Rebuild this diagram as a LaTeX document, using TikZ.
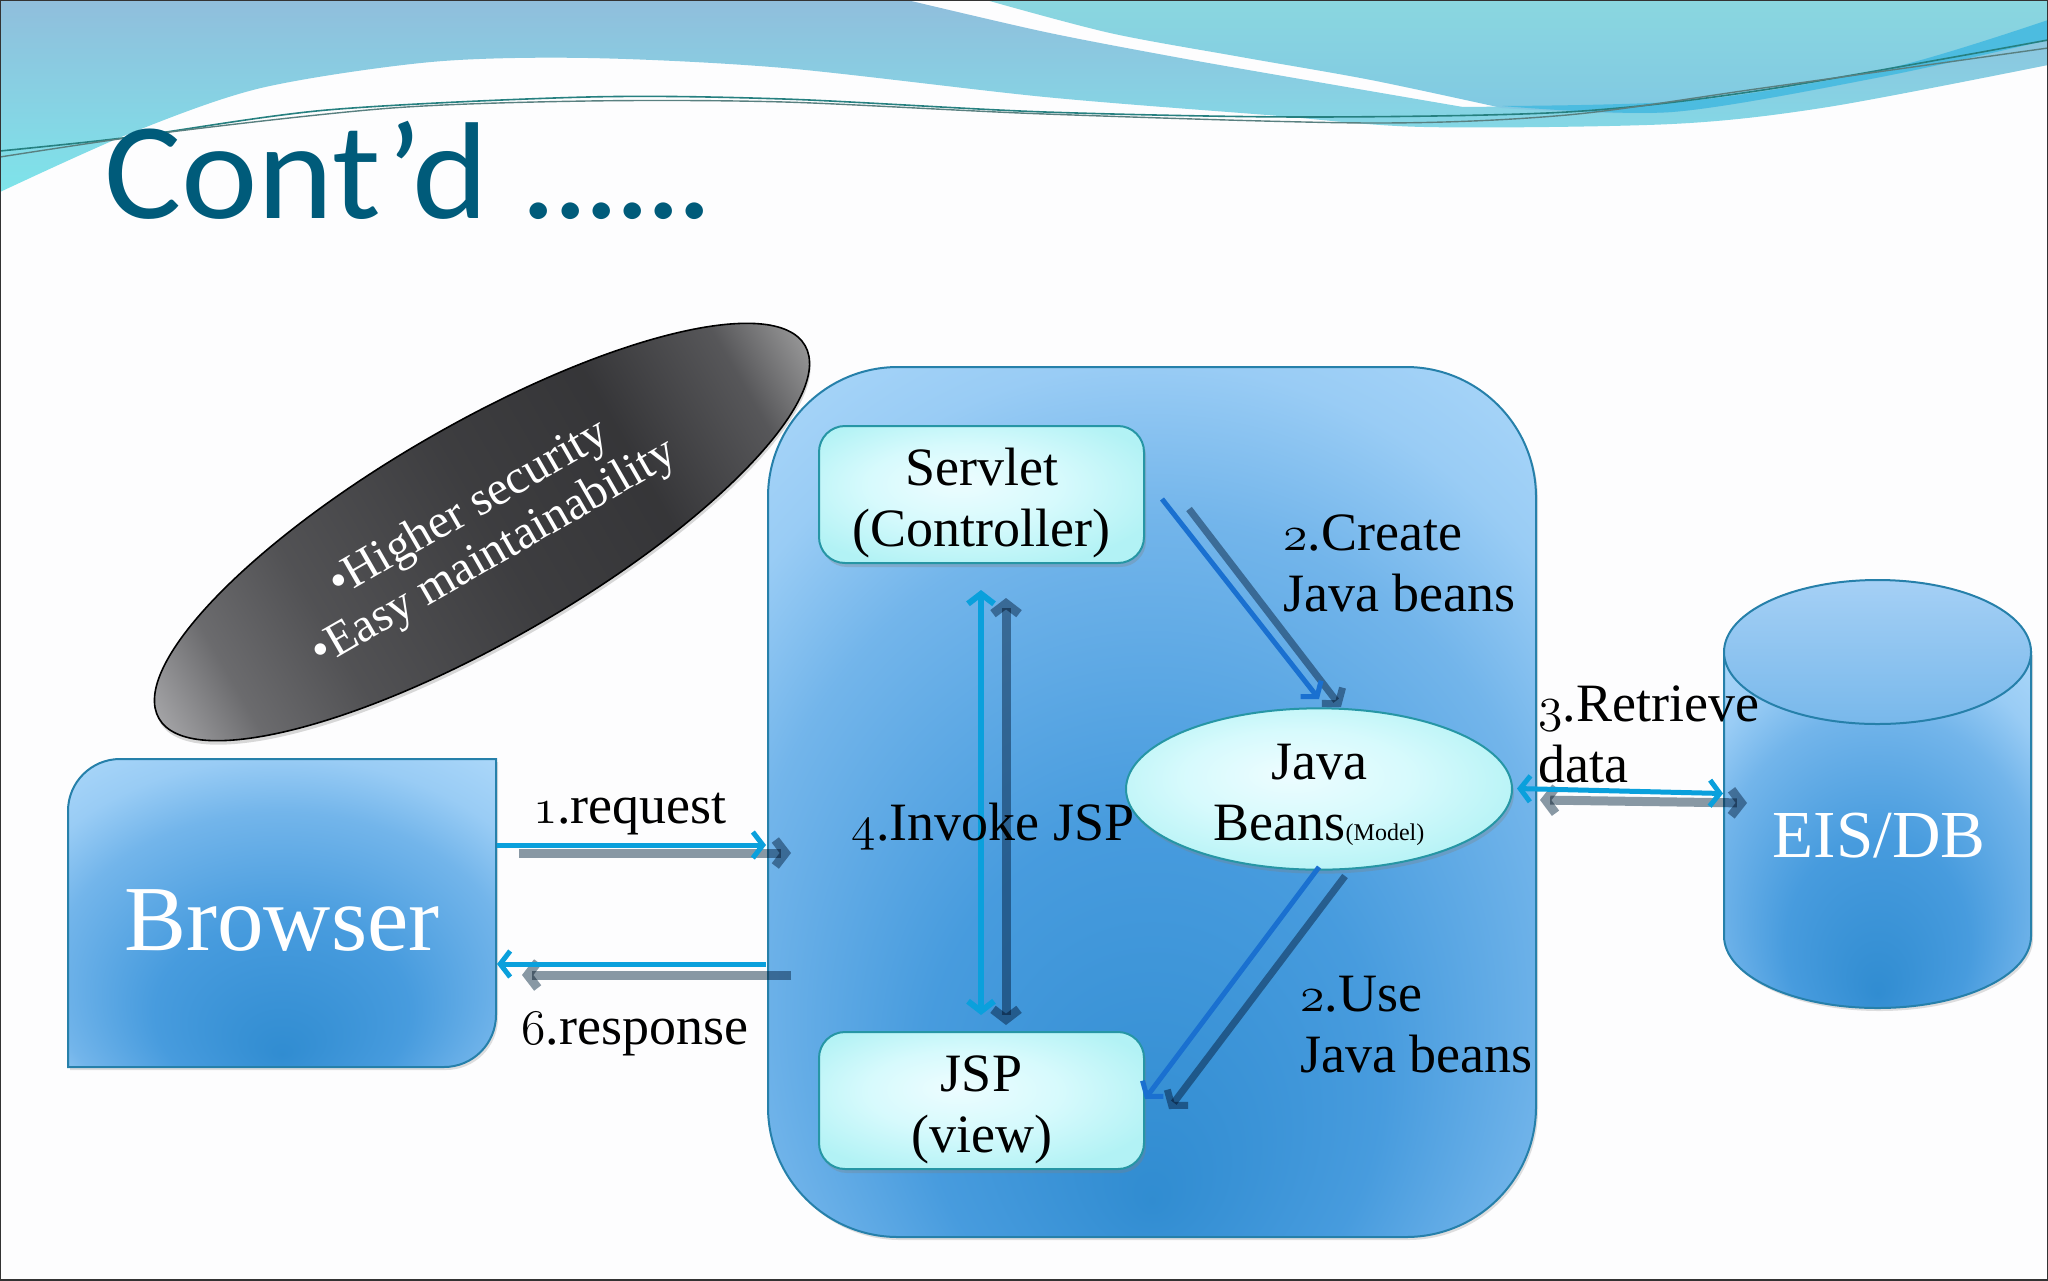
\documentclass[tikz,border=0pt]{standalone}
\usepackage{fontspec}
\setmainfont{Liberation Serif}
\newfontfamily\titlefont[FakeStretch=1.05]{Carlito}
\newfontfamily\titledots[FakeStretch=1.05,LetterSpace=-4]{Carlito}
\usetikzlibrary{arrows.meta, shapes.geometric, shadows, calc}

% Old style digits of the labels
\newcommand{\onum}[1]{{\fontsize{30}{30.5}\usefont{OML}{cmm}{m}{it}#1}}

% Shadings of the bodies
\pgfdeclareradialshading{bodyblue}{\pgfpoint{0bp}{-23bp}}{rgb(0bp)=(.19,.55,.82); rgb(15bp)=(.28,.61,.87); rgb(27bp)=(.45,.71,.92); rgb(33bp)=(.60,.80,.96); rgb(40bp)=(.68,.85,.98); rgb(50bp)=(.68,.85,.98)}
\pgfdeclareradialshading{bodylight}{\pgfpoint{-4bp}{5bp}}{rgb(0bp)=(.93,.99,1); rgb(15bp)=(.84,.98,.99); rgb(30bp)=(.70,.95,.96); rgb(50bp)=(.70,.95,.96)}
\pgfdeclarehorizontalshading{pilldark}{100bp}{rgb(0bp)=(.66,.66,.67); rgb(17.5bp)=(.66,.66,.67); rgb(25bp)=(.42,.42,.43); rgb(34bp)=(.32,.32,.33); rgb(50bp)=(.24,.24,.25); rgb(63bp)=(.21,.21,.22); rgb(74bp)=(.34,.34,.35); rgb(82.5bp)=(.68,.68,.68); rgb(100bp)=(.68,.68,.68)}

\tikzset{
  barbtip/.tip={Straight Barb[length=5pt, width=13pt]},
  bluebody/.style={draw=edgeblue, line width=1pt, shade, shading=bodyblue,
    drop shadow={shadow xshift=1pt, shadow yshift=-1.5pt, opacity=.25}},
  lightbody/.style={draw=edgeteal, line width=1pt, shade, shading=bodylight, align=center, inner sep=0pt,
    font=\fontsize{27}{30.5}\selectfont,
    drop shadow={shadow xshift=1pt, shadow yshift=-2pt, opacity=.3}},
  lbl/.style={inner sep=0pt, align=left, font=\fontsize{27}{30.5}\selectfont},
  bigwhite/.style={inner sep=0pt, text=white},
  callblue/.style={line width=2.5pt, draw=wireblue},
  calldeep/.style={line width=2.5pt, draw=wiredeep},
  callgray/.style={line width=4.5pt, draw=wiregray, blend mode=multiply},
}

\begin{document}
\begin{tikzpicture}[x=0.5pt, y=-0.5pt]
  % Colors
  \definecolor{paper}{RGB}{253, 253, 254}
  \definecolor{edgeblue}{RGB}{38, 128, 170}
  \definecolor{edgeteal}{RGB}{38, 150, 165}
  \definecolor{wireblue}{RGB}{10, 160, 220}
  \definecolor{wiredeep}{RGB}{26, 112, 208}
  \definecolor{wiregray}{RGB}{138, 154, 165}
  \definecolor{titleteal}{RGB}{0, 91, 122}
  \definecolor{waveA}{RGB}{144, 190, 220}
  \definecolor{waveAb}{RGB}{126, 228, 234}
  \definecolor{waveB}{RGB}{138, 215, 224}
  \definecolor{waveBb}{RGB}{128, 200, 226}
  \definecolor{waveC}{RGB}{76, 188, 224}
  \definecolor{dbtopA}{RGB}{165, 208, 245}
  \definecolor{dbtopB}{RGB}{120, 184, 235}

  \useasboundingbox (0,0) rectangle (2048,1280);
  \fill[paper] (0,0) rectangle (2048,1280);

  % Waves along the top
  \path[top color=waveA, bottom color=waveAb]
    (0,0) -- (907,0)
    -- plot[smooth] coordinates {(907,0) (1045,32) (1175,57) (1306,80) (1463,107)}
    -- plot[smooth] coordinates {(1463,107) (1698,100) (1894,67) (2048,20)}
    -- (2048,65)
    -- plot[smooth] coordinates {(2048,65) (1828,107) (1672,124) (1424,127) (1267,115) (1045,97) (784,68) (588,58) (431,62) (261,88) (131,133) (0,192)}
    -- cycle;
  \path[top color=waveB, bottom color=waveBb]
    plot[smooth] coordinates {(986,0) (1110,33) (1241,57) (1371,80) (1502,108)}
    -- plot[smooth] coordinates {(1502,108) (1672,112) (1881,77) (2048,40)}
    -- (2048,0) -- cycle;
  \fill[waveC]
    plot[smooth] coordinates {(1502,106) (1698,100) (1894,67) (2048,20)}
    -- plot[smooth] coordinates {(2048,40) (1881,77) (1672,112) (1502,106)}
    -- cycle;
  \draw[color=teal!70!gray, line width=.8pt]
    plot[smooth] coordinates {(0,151) (131,137) (327,110) (588,97) (784,99) (1045,112) (1306,117) (1567,112) (1763,90) (2048,40)};
  \draw[color=gray!70!teal, line width=.7pt]
    plot[smooth] coordinates {(0,157) (170,132) (392,108) (588,101) (784,102) (1045,114) (1371,123) (1567,115) (1763,88) (2048,48)};
  \draw[black!80, line width=.8pt] (0,0) rectangle (2048,1280);

  % Title
  \node[anchor=base west, inner sep=0pt, text=titleteal, font=\titlefont\fontsize{69}{69}\selectfont]
    (title) at (104,218) {Cont’d {\titledots\fontsize{69}{69}\selectfont ......}};

  % Application container and the boxes inside it
  \node[bluebody, rounded corners=65pt, minimum width=384pt, minimum height=435pt, inner sep=0pt]
    (app) at (1152,802) {};
  \node[lightbody, rounded corners=13pt, minimum width=162.5pt, minimum height=68.5pt]
    (servlet) at (981.5,494.5) {\rule{0pt}{27pt}Servlet\\(Controller)};
  \node[lightbody, rounded corners=13pt, minimum width=162.5pt, minimum height=68.5pt]
    (jsp) at (981.5,1100.5) {\rule{0pt}{27pt}JSP\\(view)};
  \node[lightbody, ellipse, minimum width=193pt, minimum height=80pt]
    (beans) at (1319,789) {\rule{0pt}{24pt}Java\\Beans{\fontsize{12}{12}\selectfont(Model)}};

  % Browser: only two of its corners are round
  \draw[bluebody] (68,1067) [rounded corners=26pt] -- (68,759) [sharp corners] -- (496,759)
    [rounded corners=26pt] -- (496,1067) [sharp corners] -- cycle;
  \node[bigwhite, font=\fontsize{46.5}{46.5}\selectfont] (browser) at (282,920) {Browser};

  % EIS/DB cylinder
  \draw[bluebody] (1724,652) -- (1724,936) arc[x radius=76.75pt, y radius=36pt, start angle=180, end angle=360]
    -- (2031,652) -- cycle;
  \draw[edgeblue, line width=1pt, top color=dbtopA, bottom color=dbtopB] (1877.5,652) ellipse[x radius=76.75pt, y radius=36pt];
  \node[bigwhite, font=\fontsize{33.6}{33.6}\selectfont] (db) at (1879,836) {EIS/DB};

  % Dark note
  \node[ellipse, rotate=30, draw=black, line width=.8pt, shade, shading=pilldark, shading angle=30, minimum width=373pt, minimum height=108pt,
    inner sep=0pt, align=center, text=white, font=\fontsize{24}{25.5}\selectfont,
    drop shadow={shadow xshift=.5pt, shadow yshift=-2pt, opacity=.3}]
    (note) at (482,532) {\textbullet Higher security\\\textbullet Easy maintainability};

  % Free ends of the connectors
  \coordinate (reqB) at (497,845);
  \coordinate (reqE) at (766,845);
  \coordinate (reqGB) at (519,853);
  \coordinate (reqGE) at (791,853);
  \coordinate (resB) at (766,964);
  \coordinate (resE) at (497,964);
  \coordinate (resGB) at (791,975);
  \coordinate (resGE) at (522,975);
  \coordinate (invB) at (981,590);
  \coordinate (invE) at (981,1015);
  \coordinate (invGB) at (1006,598);
  \coordinate (invGE) at (1006,1025);
  \coordinate (creB) at (1162,499);
  \coordinate (creE) at (1319,699);
  \coordinate (creGB) at (1189,509);
  \coordinate (creGE) at (1341,707);
  \coordinate (useB) at (1319,867);
  \coordinate (useE) at (1145,1099);
  \coordinate (useGB) at (1345,876);
  \coordinate (useGE) at (1169,1109);
  \coordinate (retB) at (1517,788.5);
  \coordinate (retE) at (1723,793.5);
  \coordinate (retGB) at (1540,800);
  \coordinate (retGE) at (1747,803);

  % Shadow of each connector, then the connector
  \draw[callgray, -{barbtip}] (reqGB) -- (reqGE);
  \draw[callgray, -{barbtip}] (resGB) -- (resGE);
  \draw[callgray, {barbtip}-{barbtip}] (invGB) -- (invGE);
  \draw[callgray, line width=3.5pt, -{barbtip}] (creGB) -- (creGE);
  \draw[callgray, line width=3.5pt, -{barbtip}] (useGB) -- (useGE);
  \draw[callgray, {barbtip}-{barbtip}] (retGB) -- (retGE);
  \draw[callblue, -{barbtip}] (reqB) -- (reqE);
  \draw[callblue, -{barbtip}] (resB) -- (resE);
  \draw[callblue, line width=3pt, {barbtip}-{barbtip}] (invB) -- (invE);
  \draw[calldeep, -{barbtip}] (creB) -- (creE);
  \draw[calldeep, -{barbtip}] (useB) -- (useE);
  \draw[callblue, {barbtip}-{barbtip}] (retB) -- (retE);

  % Labels of the connectors
  \node[lbl] (lblreq) at (630,814) {\onum{1}.request};
  \node[lbl] (lblres) at (635,1034) {\onum{6}.response};
  \node[lbl] (lblinv) at (993,827) {\onum{4}.Invoke JSP};
  \node[lbl, anchor=west] (lblcre) at (1283,563) {\onum{2}.Create\\Java beans};
  \node[lbl, anchor=west] (lbluse) at (1300,1025) {\onum{2}.Use\\Java beans};
  \node[lbl, anchor=west] (lblret) at (1538,734) {\onum{3}.Retrieve\\data};
\end{tikzpicture}
\end{document}
